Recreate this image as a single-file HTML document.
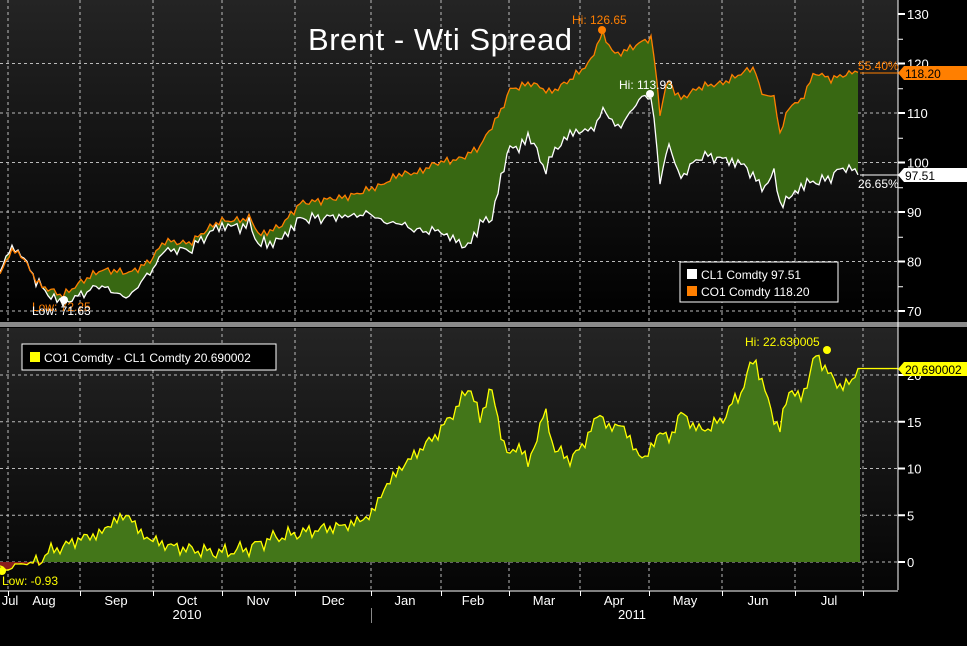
<!DOCTYPE html>
<html><head><meta charset="utf-8"><style>
body{margin:0;background:#000;width:967px;height:641px;overflow:hidden;font-family:"Liberation Sans",sans-serif}
svg text{font-family:"Liberation Sans",sans-serif}
</style></head><body>
<svg id="s" width="967" height="641" xmlns="http://www.w3.org/2000/svg">
<defs>
<linearGradient id="g1" x1="0" y1="0" x2="0" y2="1"><stop offset="0" stop-color="#242424"/><stop offset="1" stop-color="#000"/></linearGradient>
<linearGradient id="g2" x1="0" y1="0" x2="0" y2="1"><stop offset="0" stop-color="#242424"/><stop offset="1" stop-color="#050505"/></linearGradient>
</defs>
<rect x="0" y="0" width="898" height="322" fill="url(#g1)"/>
<rect x="0" y="328" width="898" height="262" fill="url(#g2)"/>
<rect x="0" y="322" width="967" height="5" fill="#8a8a8a"/>
<g id="grid" stroke="#bbb" stroke-width="1" stroke-dasharray="3,3" fill="none"></g>
<path id="topfill" fill="#386812"/>
<path id="wti" fill="none" stroke="#fff" stroke-width="1.3"/>
<path id="brent" fill="none" stroke="#ff7f00" stroke-width="1.3"/>
<path id="spfill" fill="#437619"/>
<path id="negfill" fill="#8a1c1c"/>
<path id="sp" fill="none" stroke="#ffff00" stroke-width="1.3"/>
<line x1="898" y1="0" x2="898" y2="590" stroke="#fff"/>
<line x1="0" y1="591" x2="898" y2="591" stroke="#fff"/>
<g id="ax" fill="#fff" font-size="13"></g>
<text x="308" y="50" fill="#fff" font-size="31" textLength="264">Brent - Wti Spread</text>
<rect x="680" y="262" width="158" height="40" fill="#000" stroke="#fff"/>
<rect x="687" y="269" width="10" height="10" fill="#fff"/>
<text x="701" y="279" fill="#fff" font-size="12">CL1 Comdty  97.51</text>
<rect x="687" y="286" width="10" height="10" fill="#ff7f00"/>
<text x="701" y="296" fill="#fff" font-size="12">CO1 Comdty  118.20</text>
<rect x="22" y="344" width="254" height="26" fill="#000" stroke="#fff"/>
<rect x="30" y="352" width="10" height="10" fill="#ffff00"/>
<text x="44" y="362" fill="#fff" font-size="12">CO1 Comdty - CL1 Comdty 20.690002</text>
<text x="572" y="24" fill="#ff7f00" font-size="12">Hi: 126.65</text>
<circle cx="602" cy="30" r="4" fill="#ff7f00"/>
<text x="619" y="89" fill="#fff" font-size="12">Hi: 113.93</text>
<circle cx="650" cy="94" r="4" fill="#fff"/>
<text x="32" y="311" fill="#ff7f00" font-size="12">Low: 72.25</text>
<text x="32" y="315" fill="#fff" font-size="12">Low: 71.63</text>
<circle cx="64" cy="300" r="4" fill="#fff"/>
<text x="858" y="70" fill="#ff7f00" font-size="12">55.40%</text>
<text x="858" y="188" fill="#fff" font-size="12">26.65%</text>
<line x1="860" y1="73" x2="898" y2="73" stroke="#ff7f00"/>
<line x1="860" y1="175" x2="898" y2="175" stroke="#fff"/>
<polygon points="898,73 904,66 967,66 967,80 904,80" fill="#ff7f00"/>
<text x="905" y="78" fill="#000" font-size="12">118.20</text>
<polygon points="898,175 904,168 967,168 967,182 904,182" fill="#fff"/>
<text x="905" y="180" fill="#000" font-size="12">97.51</text>
<text x="745" y="346" fill="#ffff00" font-size="12">Hi: 22.630005</text>
<circle cx="827" cy="350" r="4" fill="#ffff00"/>
<polygon points="898,369 904,362 967,362 967,376 904,376" fill="#ffff00"/>
<text x="905" y="374" fill="#000" font-size="12">20.690002</text>
<circle cx="2" cy="571" r="4" fill="#ffff00"/>
<text x="2" y="585" fill="#ffff00" font-size="12">Low: -0.93</text>
</svg>
<script>
function interp(k,x){for(let i=0;i<k.length-1;i++){if(x>=k[i][0]&&x<=k[i+1][0]){let t=(x-k[i][0])/(k[i+1][0]-k[i][0]);return k[i][1]+t*(k[i+1][1]-k[i][1]);}}return k[k.length-1][1];}
function nz(x,a){return a*(Math.sin(x*0.9)*0.5+Math.sin(x*0.37+1)*0.35+Math.sin(x*1.7+2)*0.25);}
const br=[[0,77],[10,82],[20,82],[40,75],[62,73],[80,76],[100,78],[130,78],[150,80],[165,84],[190,84],[220,88],[250,89],[260,85],[280,87],[300,92],[320,92],[340,93],[360,94],[380,95],[400,98],[420,98],[440,100],[460,101],[480,103],[500,110],[510,115],[530,116],[550,114],[570,117],[590,120],[602,126],[615,122],[640,124],[652,125],[660,110],[668,117],[680,113],[700,115],[720,116],[740,118],[755,119],[760,114],[775,113],[780,106],[790,112],[800,112],[815,118],[830,117],[845,118],[860,118.2]];
const sp=[[0,-0.5],[8,-0.9],[15,-0.3],[40,0],[46,1],[60,1.5],[80,2.5],[100,3],[115,4.5],[130,5],[140,3],[160,2],[180,1.5],[200,1.2],[222,1],[250,1.5],[270,2.5],[295,3],[320,3.5],[350,4],[371,5],[385,8],[400,10],[420,12],[440,14],[460,17],[470,19],[480,15],[490,19],[498,15],[510,11],[520,13],[528,10],[535,13],[545,16],[555,12],[570,11],[580,12],[590,14],[600,16],[610,14],[620,15],[635,12],[645,11],[660,14],[670,13],[680,16],[700,14],[720,15],[740,18],[755,22],[765,18],[780,14],[790,19],[800,17],[815,22],[825,21],[835,19],[850,19],[860,20.7]];
const yt=v=>14+(130-v)*4.95, yb=v=>562-9.35*v;
let B=[],W=[],S=[];
for(let x=0;x<=860;x+=3){let s=interp(sp,x)+(x>30?nz(x,0.9):nz(x,0.15));if(x>=858)s=20.69;let b=interp(br,x)+nz(x*1.3,1.0);if(x>=858)b=118.2;B.push([x,yt(b)]);W.push([x,yt(b-s)]);S.push([x,yb(s)]);}
S.push([860,yb(20.69)]);
const P=a=>a.map((p,i)=>(i?'L':'M')+p[0].toFixed(1)+','+p[1].toFixed(1)).join('');
document.getElementById('brent').setAttribute('d',P(B));
document.getElementById('wti').setAttribute('d',P(W));
document.getElementById('topfill').setAttribute('d',P(B)+P(W.slice().reverse()).replace('M','L')+'Z');
document.getElementById('sp').setAttribute('d',P(S)+'L898,'+yb(20.69));
document.getElementById('spfill').setAttribute('d','M0,562'+P(S).replace('M','L')+'L860,562Z');
let neg=S.filter(p=>p[0]<=42).map(p=>[p[0],Math.max(p[1],562)]);
document.getElementById('negfill').setAttribute('d','M0,562'+P(neg).replace('M','L')+'L42,562Z');
let g=document.getElementById('grid'),ax=document.getElementById('ax'),h='';
const vx=[8,80,153,222,295,371,441,509,580,649,722,795,863];
vx.forEach(x=>{h+=`<line x1="${x}" y1="0" x2="${x}" y2="322"/><line x1="${x}" y1="328" x2="${x}" y2="590"/>`;});
[120,110,100,90,80,70].forEach(v=>{h+=`<line x1="0" y1="${yt(v)}" x2="898" y2="${yt(v)}"/>`;});
[20,15,10,5,0].forEach(v=>{h+=`<line x1="0" y1="${yb(v)}" x2="898" y2="${yb(v)}"/>`;});
g.innerHTML=h;
let a='';
[130,120,110,100,90,80,70].forEach(v=>{let y=yt(v);a+=`<rect x="898" y="${y-1}" width="7" height="2"/><text x="907" y="${y+5}">${v}</text>`;});
[125,115,105,95,85,75].forEach(v=>{a+=`<rect x="898" y="${yt(v)}" width="5" height="1"/>`;});
[20,15,10,5,0].forEach(v=>{let y=yb(v);a+=`<rect x="898" y="${y-1}" width="7" height="2"/><text x="907" y="${y+5}">${v}</text>`;});
vx.forEach(x=>{a+=`<rect x="${x}" y="591" width="1" height="5"/>`;});
const ml=[["Jul",10],["Aug",44],["Sep",116],["Oct",187],["Nov",258],["Dec",333],["Jan",405],["Feb",473],["Mar",544],["Apr",614],["May",685],["Jun",758],["Jul",829]];
ml.forEach(m=>{a+=`<text x="${m[1]}" y="605" text-anchor="middle">${m[0]}</text>`;});
a+=`<text x="187" y="619" text-anchor="middle">2010</text><text x="632" y="619" text-anchor="middle">2011</text><rect x="371" y="608" width="1" height="15" fill="#888"/>`;
ax.innerHTML=a;
</script>
</body></html>
